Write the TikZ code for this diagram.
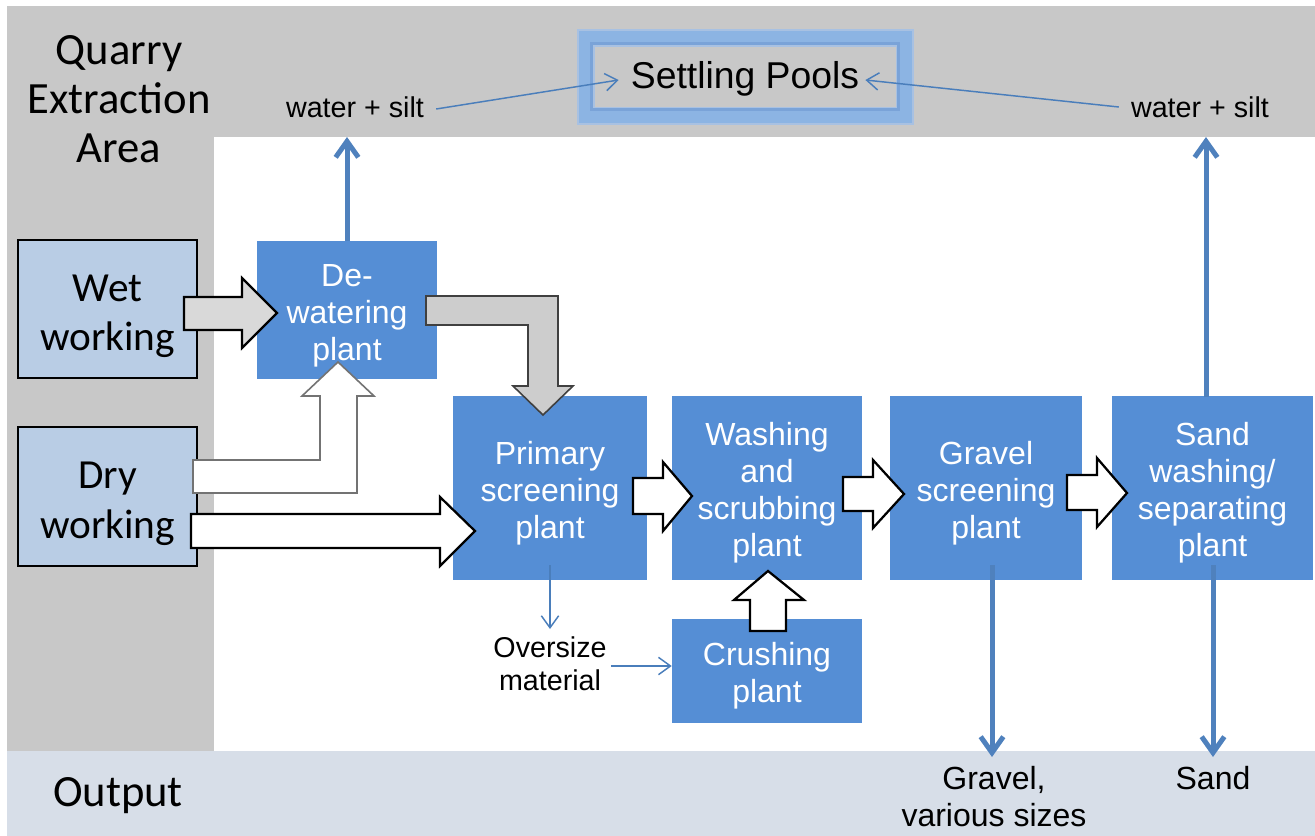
\documentclass[tikz,border=0pt]{standalone}
\usepackage{fontspec}
\setmainfont{Liberation Sans}
\newfontfamily\calib{Carlito}
\usetikzlibrary{arrows.meta,calc}
\definecolor{bandgray}{RGB}{200,200,200}
\definecolor{outband}{RGB}{215,222,232}
\definecolor{boxblue}{RGB}{85,142,213}
\definecolor{lightbox}{RGB}{185,205,229}
\definecolor{arrowblue}{RGB}{79,129,189}
\definecolor{thinblue}{RGB}{74,126,187}
\definecolor{ringblue}{RGB}{140,180,227}
\definecolor{ringsoft}{RGB}{168,193,226}
\definecolor{ringdark}{RGB}{122,163,216}
\definecolor{fatgray}{RGB}{205,205,205}
\definecolor{wetgray}{RGB}{217,217,217}
\newcommand{\pst}{\rule{0pt}{25pt}}
\newcommand{\wst}{\rule{0pt}{31pt}}
\tikzset{
  plant/.style={fill=boxblue, draw=none, text=white, align=center, inner sep=0pt,
    font=\fontsize{24}{27.75}\selectfont},
  work/.style={fill=lightbox, draw=black, line width=0.9pt, align=center, inner sep=0pt,
    font=\calib\fontsize{31}{37}\selectfont},
  side/.style={align=center, inner sep=0pt, font=\calib\fontsize{33.5}{37}\selectfont},
  small/.style={align=center, inner sep=0pt, font=\fontsize{21.5}{24.75}\selectfont},
  thickarrow/.style={draw=arrowblue, line width=3.75pt, -{Straight Barb[length=12pt,width=17pt]}},
  thinarrow/.style={draw=thinblue, line width=1.1pt, -{Straight Barb[length=9pt,width=13pt]}},
  whitefat/.style={fill=white, draw=black, line width=1.7pt, line join=miter},
  grayfat/.style={fill=fatgray, draw=black!75, line width=1.2pt, line join=miter},
  whitegrayfat/.style={fill=white, draw=black!55, line width=1.2pt, line join=miter},
  wetfat/.style={fill=wetgray, draw=black, line width=1.7pt, line join=miter}
}
\begin{document}
\begin{tikzpicture}[x=0.75pt,y=-0.75pt]
\useasboundingbox (0,0) rectangle (1315,836);
% background regions
\fill[bandgray] (7,6) rectangle (1315,137);
\fill[bandgray] (7,6) rectangle (214,751);
\fill[outband] (7,751) rectangle (1315,836);
\coordinate (bandedge) at (0,137);
\coordinate (outedge) at (0,757);

% side labels
\node[side] (quarry) at (119,99) {Quarry\\Extraction\\Area};
\node[side] (output) at (118,796) {Output};

% settling pools frame
\draw[ringsoft, line width=13.5pt] (585.5,37.5) rectangle (904.5,115.5);
\draw[ringblue, line width=10.5pt] (585.5,37.5) rectangle (904.5,115.5);
\draw[ringdark, line width=2pt] (591.5,43.5) rectangle (898.5,109.5);
\node[font=\fontsize{28}{33}\selectfont, inner sep=0pt] (pools) at (745,79) {Settling Pools};

% boxes
\node[work, minimum width=134.25pt, minimum height=103.5pt] (wet) at (107.5,309) {\wst Wet\\working};
\node[work, minimum width=134.25pt, minimum height=104.25pt] (dry) at (107.5,496.5) {\wst Dry\\working};
\node[plant, minimum width=135pt, minimum height=103.5pt] (dew) at (347,310) {\pst De-\\watering\\plant};
\node[plant, minimum width=145.5pt, minimum height=138pt] (prim) at (550,488) {\pst Primary\\screening\\plant};
\node[plant, minimum width=142.5pt, minimum height=138pt] (wash) at (767,488) {\pst Washing\\and\\scrubbing\\plant};
\node[plant, minimum width=144pt, minimum height=138pt] (grav) at (986,488) {\pst Gravel\\screening\\plant};
\node[plant, minimum width=150.75pt, minimum height=138pt] (sand) at (1212.5,488) {\pst Sand\\washing/\\separating\\plant};
\node[plant, minimum width=142.5pt, minimum height=78pt] (crush) at (767,671) {\pst Crushing\\plant};

% small labels
\node[small] (wsl) at (355,107) {water + silt};
\node[small] (wsr) at (1200,107) {water + silt};
\node[small] (over) at (550,664) {Oversize\\material};
\node[small, font=\fontsize{24}{27.75}\selectfont] (gravout) at (994,797) {Gravel,\\various sizes};
\node[small, font=\fontsize{24}{27.75}\selectfont, anchor=base] (sandout) at (1213,789) {Sand};

% fat block arrows
\draw[wetfat] (184,297) -- (242,297) -- (242,278) -- (277,313) -- (242,348) -- (242,330) -- (184,330) -- cycle;
\draw[grayfat] (426,296) -- (558,296) -- (558,386) -- (573,386) -- (543,415) -- (513,386) -- (528,386) -- (528,325) -- (426,325) -- cycle;
\draw[whitegrayfat] (193,460) -- (320,460) -- (320,396) -- (302,396) -- (338,362) -- (374,396) -- (357,396) -- (357,493) -- (193,493) -- cycle;
\draw[whitefat] (191,514) -- (440,514) -- (440,497) -- (475,531) -- (440,566) -- (440,548) -- (191,548) -- cycle;
\draw[whitefat] (633,478) -- (663,478) -- (663,462) -- (692,496) -- (663,531) -- (663,514) -- (633,514) -- cycle;
\draw[whitefat] (843,477) -- (873,477) -- (873,460) -- (904,494) -- (873,528) -- (873,511) -- (843,511) -- cycle;
\draw[whitefat] (1067,475) -- (1097,475) -- (1097,458) -- (1127,493) -- (1097,527) -- (1097,510) -- (1067,510) -- cycle;
\draw[whitefat] (750,631) -- (750,600) -- (734,600) -- (768,571) -- (804,600) -- (786,600) -- (786,631) -- cycle;

% blue connectors
\draw[thickarrow] (dew.north) -- (dew.north |- bandedge);
\coordinate (sandup) at (1206,397);
\draw[thickarrow] (sandup) -- (sandup |- bandedge);
\coordinate (gravdown) at (992,565);
\draw[thickarrow] (gravdown) -- (gravdown |- outedge);
\coordinate (sanddown) at (1213,565);
\draw[thickarrow] (sanddown) -- (sanddown |- outedge);

\draw[thinarrow] ($(wsl.east)+(12,2)$) -- ($(pools.west)+(-12,1)$);
\draw[thinarrow] ($(wsr.west)+(-12,0)$) -- ($(pools.east)+(6,1)$);
\coordinate (primdown) at (550,565);
\draw[thinarrow] (primdown) -- (550,629);
\coordinate (overstart) at ($(over.east)+(4,2)$);
\draw[thinarrow] (overstart) -- (crush.west |- overstart);
\end{tikzpicture}
\end{document}
